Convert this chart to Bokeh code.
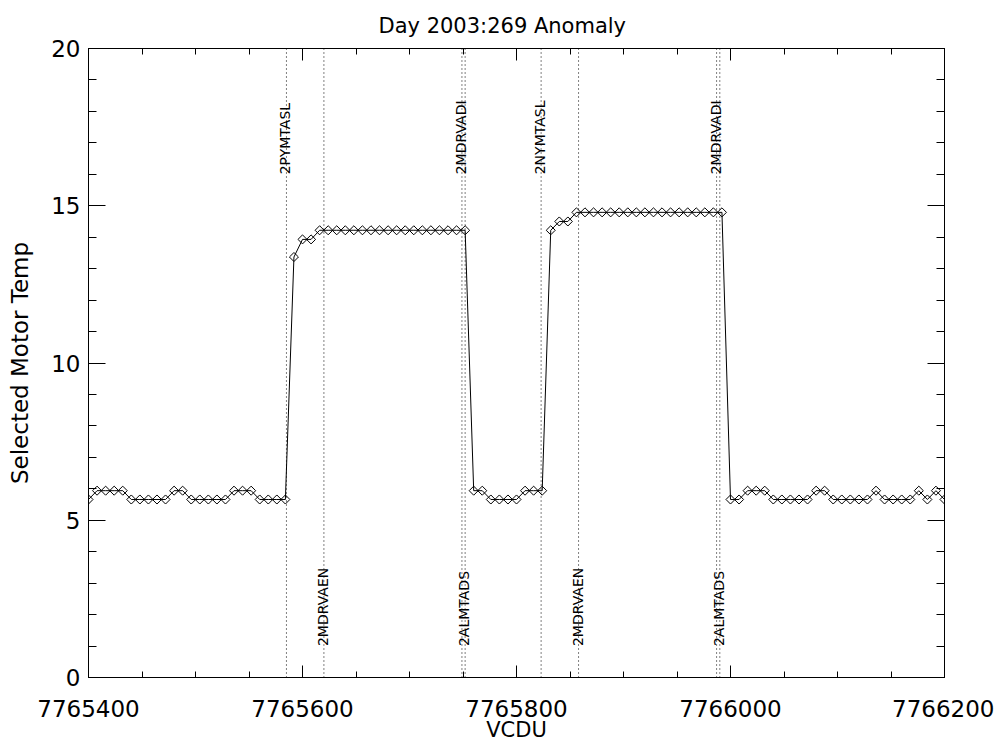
import numpy as np
from bokeh.plotting import figure
from bokeh.models import LinearAxis, FixedTicker, BasicTickFormatter, Range1d, ColumnDataSource
from bokeh.core.properties import value
from bokeh.embed import file_html
from bokeh.resources import INLINE

# ---- data ----
vcdu = [7765400, 7765408, 7765416, 7765424, 7765432, 7765440, 7765448, 7765456,
        7765464, 7765472, 7765480, 7765488, 7765496, 7765504, 7765512, 7765520,
        7765528, 7765536, 7765544, 7765552, 7765560, 7765568, 7765576, 7765584,
        7765592, 7765600, 7765608, 7765616, 7765624, 7765632, 7765640, 7765648,
        7765656, 7765664, 7765672, 7765680, 7765688, 7765696, 7765704, 7765712,
        7765720, 7765728, 7765736, 7765744, 7765752,
        7765760, 7765768, 7765776, 7765784, 7765792, 7765800, 7765808, 7765816,
        7765824,
        7765832, 7765840, 7765848, 7765856, 7765864, 7765872, 7765880, 7765888,
        7765896, 7765904, 7765912, 7765920, 7765928, 7765936, 7765944, 7765952,
        7765960, 7765968, 7765976, 7765984, 7765992,
        7766000, 7766008, 7766016, 7766024, 7766032, 7766040, 7766048, 7766056,
        7766064, 7766072, 7766080, 7766088, 7766096, 7766104, 7766112, 7766120,
        7766128, 7766136, 7766144, 7766152, 7766160, 7766168, 7766176, 7766184,
        7766192, 7766200]

temp = [5.66, 5.94, 5.94, 5.94, 5.94, 5.66, 5.66, 5.66, 5.66, 5.66, 5.94, 5.94,
        5.66, 5.66, 5.66, 5.66, 5.66, 5.94, 5.94, 5.94, 5.66, 5.66, 5.66, 5.66,
        13.37, 13.93, 13.93, 14.22, 14.22, 14.22, 14.22, 14.22, 14.22, 14.22,
        14.22, 14.22, 14.22, 14.22, 14.22, 14.22, 14.22, 14.22, 14.22, 14.22, 14.22,
        5.94, 5.94, 5.66, 5.66, 5.66, 5.66, 5.94, 5.94, 5.94,
        14.22, 14.50, 14.50, 14.79, 14.79, 14.79, 14.79, 14.79, 14.79, 14.79,
        14.79, 14.79, 14.79, 14.79, 14.79, 14.79, 14.79, 14.79, 14.79, 14.79, 14.79,
        5.66, 5.66, 5.94, 5.94, 5.94, 5.66, 5.66, 5.66, 5.66, 5.66, 5.94, 5.94,
        5.66, 5.66, 5.66, 5.66, 5.66, 5.94, 5.66, 5.66, 5.66, 5.66, 5.94, 5.66,
        5.94, 5.66]

event_top_x = [7765585, 7765749, 7765823, 7765987]
event_top_labels = ["2PYMTASL", "2MDRVADI", "2NYMTASL", "2MDRVADI"]
event_bot_x = [7765620, 7765752, 7765858, 7765990]
event_bot_labels = ["2MDRVAEN", "2ALMTADS", "2MDRVAEN", "2ALMTADS"]
label_top_y = 16
label_bot_y = 1

x_major = [7765400, 7765600, 7765800, 7766000, 7766200]
x_minor = list(range(7765400, 7766201, 50))
y_major = [0, 5, 10, 15, 20]
y_minor = list(range(0, 21, 1))

FONT = "DejaVu Sans"

p = figure(width=994, height=748,
           x_range=Range1d(7765400, 7766200), y_range=Range1d(0, 20),
           output_backend="svg", toolbar_location=None,
           min_border_left=88, min_border_right=50,
           min_border_top=47, min_border_bottom=71,
           title="Day 2003:269 Anomaly")
p.background_fill_color = "white"
p.border_fill_color = "white"
p.outline_line_color = None
p.xgrid.visible = False
p.ygrid.visible = False

p.title.text_font = FONT
p.title.text_font_size = "21px"
p.title.text_font_style = "normal"
p.title.align = "left"
p.title.offset = 290
p.title.standoff = 22
p.title.text_color = "black"


def style(ax, ticks, minor, tick_len):
    ax.ticker = FixedTicker(ticks=ticks, minor_ticks=minor)
    ax.formatter = BasicTickFormatter(use_scientific=False)
    ax.axis_line_color = "black"
    ax.axis_line_width = 1
    ax.major_tick_line_color = "black"
    ax.minor_tick_line_color = "black"
    ax.major_tick_in = tick_len
    ax.major_tick_out = 0
    ax.minor_tick_in = tick_len // 2
    ax.minor_tick_out = 0
    ax.major_label_text_font = FONT
    ax.major_label_text_font_size = "23px"
    ax.major_label_text_color = "black"
    ax.axis_label_text_font = FONT
    ax.axis_label_text_font_style = "normal"
    ax.axis_label_text_color = "black"


for ax in p.below:
    style(ax, x_major, x_minor, 12)
    ax.axis_label = "VCDU"
    ax.axis_label_text_font_size = "21px"
    ax.major_label_standoff = 22
    ax.axis_label_standoff = -2
for ax in p.left:
    style(ax, y_major, y_minor, 17)
    ax.axis_label = "Selected Motor Temp"
    ax.axis_label_text_font_size = "23px"
    ax.major_label_standoff = 8
    ax.axis_label_standoff = 15


# mirrored tick axes on top and right (ticks only, no labels)
def tick_only_axis(positions, length):
    ax = LinearAxis(ticker=FixedTicker(ticks=[], minor_ticks=positions))
    ax.axis_line_color = "black"
    ax.axis_line_width = 1
    ax.major_tick_out = 0
    ax.major_tick_in = 0
    ax.minor_tick_in = length
    ax.minor_tick_out = 0
    ax.minor_tick_line_color = "black"
    ax.major_label_standoff = 0
    return ax


p.add_layout(tick_only_axis(x_minor, 6), "above")
p.add_layout(tick_only_axis(x_major, 12), "above")
p.add_layout(tick_only_axis(y_minor, 8), "right")
p.add_layout(tick_only_axis(y_major, 17), "right")

# event markers (dotted vertical lines)
ev_x = event_top_x + event_bot_x
ev = ColumnDataSource(dict(x=ev_x, y0=[0] * len(ev_x), y1=[20] * len(ev_x)))
p.segment(x0="x", x1="x", y0="y0", y1="y1", source=ev,
          line_color="black", line_width=1, line_dash="1 3")

# data
src = ColumnDataSource(dict(x=vcdu, y=temp))
p.line("x", "y", source=src, line_color="black", line_width=1)
p.scatter("x", "y", source=src, marker="square", angle=np.pi / 4, size=6.4,
          fill_color=None, line_color="black", line_width=1)

# event labels
top_src = ColumnDataSource(dict(x=event_top_x, y=[label_top_y] * 4, t=event_top_labels))
bot_src = ColumnDataSource(dict(x=event_bot_x, y=[label_bot_y] * 4, t=event_bot_labels))
for s in (top_src, bot_src):
    p.text("x", "y", text="t", source=s, angle=np.pi / 2,
           text_align="left", text_baseline="alphabetic", x_offset=-1,
           text_font=value(FONT), text_font_size=value("14px"),
           text_color="black")

open("out.html", "w").write(file_html(p, INLINE))
